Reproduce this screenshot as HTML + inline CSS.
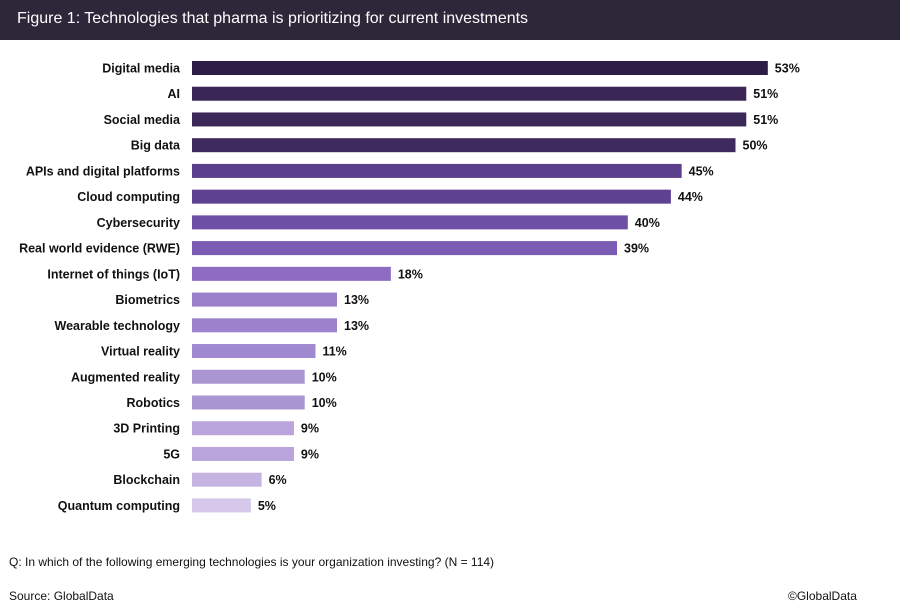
<!DOCTYPE html>
<html><head><meta charset="utf-8"><style>
body{margin:0;width:900px;height:609px;background:#fff;font-family:"Liberation Sans",sans-serif;overflow:hidden;position:relative}
#hdr{position:absolute;left:0;top:0;width:900px;height:40px;background:#2e2639;color:#fff;font-size:16px;line-height:38px;padding-left:17px;box-sizing:border-box}
.note{position:absolute;font-size:12px;color:#111}
</style></head><body>
<div id="hdr">Figure 1: Technologies that pharma is prioritizing for current investments</div>
<svg id="c" width="900" height="609" style="position:absolute;left:0;top:0"></svg>
<div class="note" style="left:9px;top:555px">Q: In which of the following emerging technologies is your organization investing? (N = 114)</div>
<div class="note" style="left:9px;top:589px">Source: GlobalData</div>
<div class="note" style="left:788px;top:589px">©GlobalData</div>
<script>
const categories=["Digital media","AI","Social media","Big data","APIs and digital platforms","Cloud computing","Cybersecurity","Real world evidence (RWE)","Internet of things (IoT)","Biometrics","Wearable technology","Virtual reality","Augmented reality","Robotics","3D Printing","5G","Blockchain","Quantum computing"];
const values=[53,51,51,50,45,44,40,39,18,13,13,11,10,10,9,9,6,5];
const colors=["#2d1c45","#3a2757","#3b2859","#3e2a5e","#5b3f8c","#5e4291","#6d4fa6","#7b5cb5","#8e6cc4","#9a80cb","#9c82cc","#a08acf","#a996d3","#a996d3","#b9a5dc","#b9a5dc","#c5b4e2","#d5c8ea"];
const svg=document.getElementById('c');const NS='http://www.w3.org/2000/svg';
const x0=192;const xs=v=>x0+5+v*10.77;const ys=i=>68+i*25.73;
categories.forEach((c,i)=>{
 const y=ys(i);
 const r=document.createElementNS(NS,'rect');
 r.setAttribute('x',x0);r.setAttribute('y',y-7);r.setAttribute('width',xs(values[i])-x0);r.setAttribute('height',14);r.setAttribute('fill',colors[i]);
 
 
 svg.appendChild(r);
 const l=document.createElementNS(NS,'text');
 l.setAttribute('x',180);l.setAttribute('y',y+4.5);l.setAttribute('text-anchor','end');l.setAttribute('font-size','12.5');l.setAttribute('font-weight','bold');l.setAttribute('fill','#111');l.textContent=c;
 
 
 svg.appendChild(l);
 const t=document.createElementNS(NS,'text');
 t.setAttribute('x',xs(values[i])+7);t.setAttribute('y',y+4.5);t.setAttribute('font-size','12.5');t.setAttribute('font-weight','bold');t.setAttribute('fill','#111');t.textContent=values[i]+'%';
 
 
 svg.appendChild(t);
});
</script>
</body></html>
